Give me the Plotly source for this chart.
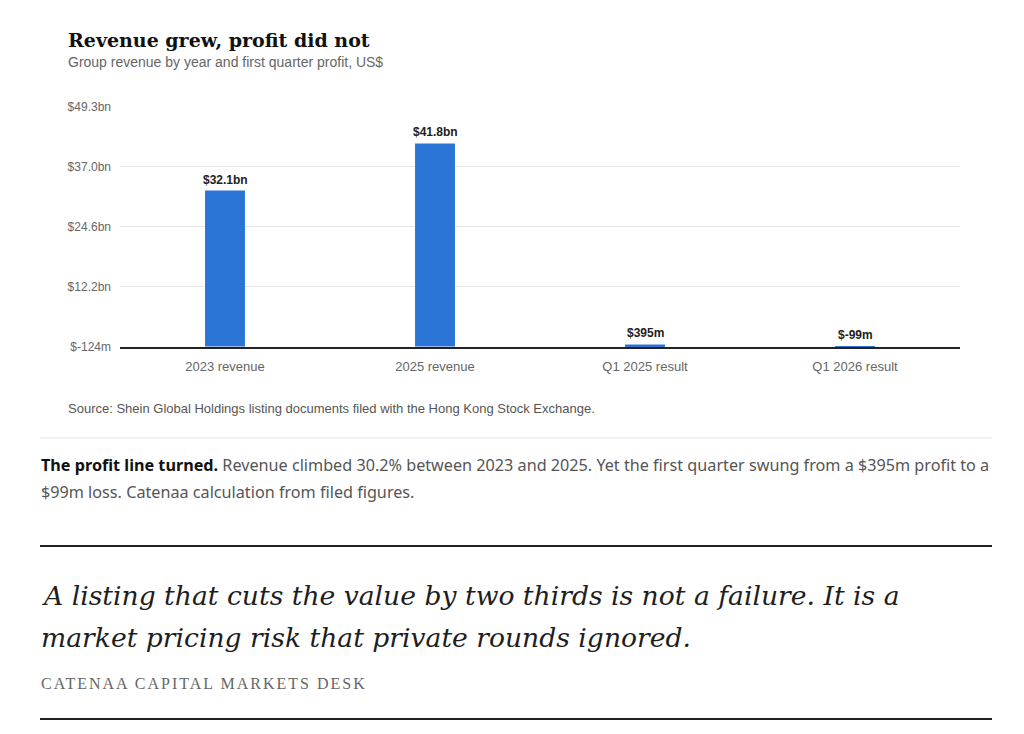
import plotly.graph_objects as go

categories = ["2023 revenue", "2025 revenue", "Q1 2025 result", "Q1 2026 result"]
values_bn = [32.1, 41.8, 0.395, -0.099]
value_labels = ["$32.1bn", "$41.8bn", "$395m", "$-99m"]
tick_vals = [-0.124, 12.232, 24.588, 36.944, 49.3]
tick_text = ["$-124m", "$12.2bn", "$24.6bn", "$37.0bn", "$49.3bn"]

# page has an 8px body margin, so the figure sits at (8, 8)
OFF = 8
W, H = 1024 - OFF * 2, 734 - OFF * 2
L, R, T, B = 120 - OFF, 1024 - 960 - OFF, 106 - OFF, 734 - 347 - OFF


def px(x):
    return (x - OFF - L) / (W - L - R)


def py(y):
    return (H - B - (y - OFF)) / (H - T - B)


fig = go.Figure()
fig.add_trace(go.Bar(
    x=categories, y=values_bn,
    marker=dict(color="#2a74d5", line=dict(width=0)),
    hoverinfo="x+y",
))

# value labels above each bar (at zero for the loss)
for c, v, t in zip(categories, values_bn, value_labels):
    fig.add_annotation(x=c, y=max(v, 0), text="<b>" + t + "</b>", showarrow=False,
                       yanchor="bottom", yshift=2,
                       font=dict(family="Liberation Sans, Arial", size=12, color="#222"))

serif = "Liberation Serif, Georgia, serif"
sans = "Liberation Sans, Arial, sans-serif"
para = dict(family="Noto Sans", size=16.2, color="#555")
quote = dict(family="DejaVu Serif", size=26.6, color="#1e1e1e")

texts = [
    dict(x=67, y=40, text="<b>Revenue grew, profit did not</b>",
         font=dict(family="DejaVu Serif, Georgia", size=19, color="#111")),
    dict(x=67, y=62, text="Group revenue by year and first quarter profit, US$",
         font=dict(family=sans, size=14, color="#666")),
    dict(x=67, y=408, text="Source: Shein Global Holdings listing documents filed with the Hong Kong Stock Exchange.",
         font=dict(family=sans, size=13, color="#555")),
    dict(x=40, y=465,
         text="<b style='color:#111'>The profit line turned.</b> Revenue climbed 30.2% between 2023 and 2025. "
              "Yet the first quarter swung from a $395m profit to a", font=para),
    dict(x=40, y=492, text="$99m loss. Catenaa calculation from filed figures.", font=para),
    dict(x=40, y=595,
         text="<i>A listing that cuts the value by two thirds is not a failure. It is a</i>", font=quote),
    dict(x=40, y=637, text="<i>market pricing risk that private rounds ignored.</i>", font=quote),
    dict(x=40, y=683, text="<span style='letter-spacing:2px'>CATENAA CAPITAL MARKETS DESK</span>",
         font=dict(family=serif, size=16, color="#666")),
]
for t in texts:
    fig.add_annotation(xref="paper", yref="paper", x=px(t["x"]), y=py(t["y"]),
                       text=t["text"], showarrow=False, xanchor="left", yanchor="middle",
                       align="left", xshift=-1, font=t["font"])

# separator rules
rules = [(438, "#eeeeee", 1.5), (546, "#222222", 2), (719, "#222222", 2)]
for y, col, w in rules:
    fig.add_shape(type="line", xref="paper", yref="paper", x0=px(40), x1=px(992),
                  y0=py(y), y1=py(y), line=dict(color=col, width=w))

fig.update_layout(
    width=W, height=H,
    margin=dict(l=L, r=R, t=T, b=B),
    paper_bgcolor="white", plot_bgcolor="white",
    bargap=0.81, showlegend=False,
    font=dict(family=sans, size=12, color="#666"),
    xaxis=dict(showline=True, linecolor="#222", linewidth=2, ticks="",
               ticklabelstandoff=6,
               tickfont=dict(size=13, color="#666"), fixedrange=True),
    yaxis=dict(range=[-0.124, 49.5], tickvals=tick_vals, ticktext=tick_text,
               gridcolor="#e6e6e6", zeroline=False, showline=False,
               ticklabelstandoff=8,
               tickfont=dict(size=12, color="#666"), fixedrange=True),
)

fig.write_html("out.html")
